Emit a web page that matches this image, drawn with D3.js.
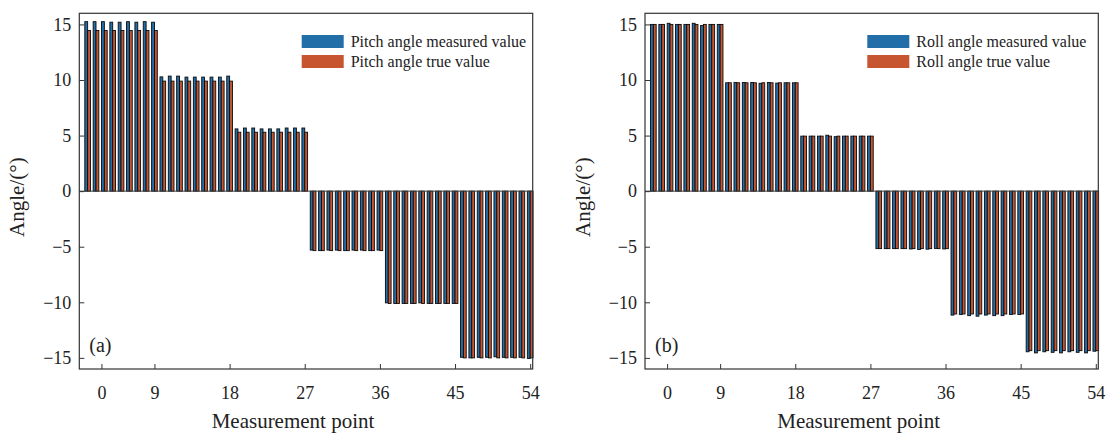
<!DOCTYPE html>
<html>
<head>
<meta charset="utf-8">
<script src="https://d3js.org/d3.v7.min.js"></script>
<style>
body { margin: 0; background: #fff; }
text { font-family: "Liberation Serif", "Times New Roman", serif; fill: #222; }
</style>
</head>
<body>
<script>
// measurement points 1..54
var points = d3.range(1, 55);

var pitchMeasured = [
  15.25, 15.25, 15.25, 15.2, 15.2, 15.25, 15.2, 15.25, 15.2,
  10.28, 10.35, 10.35, 10.26, 10.26, 10.26, 10.26, 10.26, 10.35,
  5.6, 5.68, 5.68, 5.6, 5.6, 5.6, 5.68, 5.68, 5.68,
  -5.3, -5.35, -5.3, -5.3, -5.35, -5.3, -5.3, -5.35, -5.3,
  -10.05, -10.1, -10.1, -10.1, -10.05, -10.1, -10.1, -10.1, -10.1,
  -14.95, -15.0, -14.95, -14.95, -14.9, -14.95, -14.95, -14.95, -15.05
];
var pitchTrue = [
  14.45, 14.45, 14.45, 14.45, 14.45, 14.45, 14.45, 14.45, 14.45,
  9.9, 9.9, 9.9, 9.9, 9.9, 9.9, 9.9, 9.9, 9.9,
  5.3, 5.3, 5.3, 5.3, 5.3, 5.3, 5.3, 5.3, 5.3,
  -5.35, -5.35, -5.35, -5.35, -5.35, -5.35, -5.35, -5.35, -5.35,
  -10.1, -10.1, -10.1, -10.1, -10.1, -10.1, -10.1, -10.1, -10.1,
  -15.0, -15.0, -15.0, -15.0, -15.0, -15.0, -15.0, -15.0, -15.0
];
var rollMeasured = [
  15.0, 15.0, 15.1, 15.0, 15.0, 15.1, 14.9, 15.0, 15.0,
  9.75, 9.78, 9.78, 9.78, 9.7, 9.78, 9.72, 9.75, 9.75,
  4.95, 4.95, 4.95, 5.03, 4.9, 4.95, 4.95, 4.95, 4.95,
  -5.17, -5.17, -5.17, -5.17, -5.2, -5.25, -5.22, -5.15, -5.2,
  -11.15, -11.1, -11.2, -11.25, -11.15, -11.2, -11.2, -11.1, -11.1,
  -14.45, -14.55, -14.45, -14.5, -14.55, -14.45, -14.5, -14.55, -14.4
];
var rollTrue = [
  15.0, 15.0, 15.0, 15.0, 15.0, 15.0, 15.0, 15.0, 15.0,
  9.75, 9.75, 9.75, 9.75, 9.75, 9.75, 9.75, 9.75, 9.75,
  4.95, 4.95, 4.95, 4.95, 4.95, 4.95, 4.95, 4.95, 4.95,
  -5.17, -5.17, -5.17, -5.17, -5.17, -5.17, -5.17, -5.17, -5.17,
  -11.05, -11.05, -11.05, -11.05, -11.05, -11.05, -11.05, -11.05, -11.05,
  -14.35, -14.35, -14.35, -14.35, -14.35, -14.35, -14.35, -14.35, -14.35
];

var xTickPos = [2.65, 9, 18, 27, 36, 45, 54];
var xTickLabels = ["0", "9", "18", "27", "36", "45", "54"];
var yTicks = [-15, -10, -5, 0, 5, 10, 15];

var blue = "#216ea8", red = "#c65530";

var svg = d3.select("body").append("svg")
    .attr("width", 1109)
    .attr("height", 433);

function drawPanel(left, right, measured, truth, names, tag) {
  var top = 13.3, bottom = 369;
  var x = d3.scaleLinear().domain([0, 54.3]).range([left, right]);
  var y = d3.scaleLinear().domain([-16, 16]).range([bottom, top]);
  var bw = x(0.34) - x(0);

  var g = svg.append("g");

  // bars (black edges, as in the original)
  g.selectAll(".m").data(points).enter().append("rect")
      .attr("x", function(d) { return x(d) - bw; })
      .attr("width", bw)
      .attr("y", function(d, i) { return y(Math.max(0, measured[i])); })
      .attr("height", function(d, i) { return Math.abs(y(measured[i]) - y(0)); })
      .attr("fill", blue).attr("stroke", "#0b0b0b").attr("stroke-width", 0.9);
  g.selectAll(".t").data(points).enter().append("rect")
      .attr("x", function(d) { return x(d); })
      .attr("width", bw)
      .attr("y", function(d, i) { return y(Math.max(0, truth[i])); })
      .attr("height", function(d, i) { return Math.abs(y(truth[i]) - y(0)); })
      .attr("fill", red).attr("stroke", "#0b0b0b").attr("stroke-width", 0.9);

  // zero line
  g.append("line")
      .attr("x1", left).attr("x2", right)
      .attr("y1", y(0)).attr("y2", y(0))
      .attr("stroke", "#444").attr("stroke-width", 1);

  // frame
  g.append("rect")
      .attr("x", left).attr("y", top)
      .attr("width", right - left).attr("height", bottom - top)
      .attr("fill", "none").attr("stroke", "#333").attr("stroke-width", 1.2);

  // axes with inward ticks
  var xAxis = d3.axisTop(x).tickValues(xTickPos)
      .tickFormat(function(d, i) { return xTickLabels[i]; })
      .tickSize(5).tickSizeOuter(0);
  var gx = g.append("g").attr("transform", "translate(0," + bottom + ")").call(xAxis);
  gx.select(".domain").remove();
  gx.selectAll("line").attr("stroke", "#333");
  gx.selectAll("text").attr("y", 24).attr("dy", "0.35em")
      .style("font-size", "18px").style("font-family", "Liberation Serif").attr("fill", "#222");

  var yAxis = d3.axisRight(y).tickValues(yTicks)
      .tickFormat(function(d) { return d < 0 ? "\u2212" + Math.abs(d) : d; })
      .tickSize(5).tickSizeOuter(0);
  var gy = g.append("g").attr("transform", "translate(" + left + ",0)").call(yAxis);
  gy.select(".domain").remove();
  gy.selectAll("line").attr("stroke", "#333");
  gy.selectAll("text").attr("x", -8).attr("text-anchor", "end")
      .style("font-size", "18px").style("font-family", "Liberation Serif").attr("fill", "#222");

  // axis labels
  g.append("text")
      .attr("transform", "translate(" + (left - 55) + "," + ((top + bottom) / 2 + 6) + ") rotate(-90)")
      .attr("text-anchor", "middle")
      .style("font-size", "21px")
      .text("Angle/(\u00b0)");
  g.append("text")
      .attr("x", (left + right) / 2 - 13).attr("y", 428)
      .attr("text-anchor", "middle")
      .style("font-size", "21px")
      .text("Measurement point");

  g.append("text")
      .attr("x", left + 10).attr("y", 352)
      .style("font-size", "20px")
      .text(tag);

  // legend
  var lx = right - 231;
  var leg = g.append("g");
  [blue, red].forEach(function(c, i) {
    leg.append("rect")
        .attr("x", lx).attr("y", 35 + i * 20)
        .attr("width", 42).attr("height", 13)
        .attr("fill", c);
    leg.append("text")
        .attr("x", lx + 49).attr("y", 47 + i * 20)
        .style("font-size", "16px")
        .text(names[i]);
  });
}

drawPanel(79.3, 532.7, pitchMeasured, pitchTrue,
  ["Pitch angle measured value", "Pitch angle true value"], "(a)");
drawPanel(645, 1098.3, rollMeasured, rollTrue,
  ["Roll angle measured value", "Roll angle true value"], "(b)");
</script>
</body>
</html>
